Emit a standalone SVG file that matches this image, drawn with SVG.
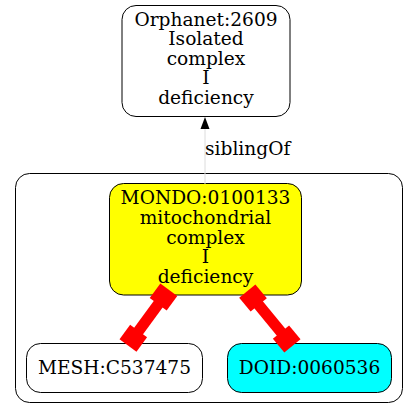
<svg xmlns="http://www.w3.org/2000/svg" width="419" height="419" viewBox="0 0 419 419">
<style>
.n{stroke:#000;stroke-width:1}
text{font-family:"DejaVu Serif","Liberation Serif",serif;font-size:18.6px;text-anchor:middle;fill:#000}
.red{fill:#ff0000;stroke:none}
</style>
<rect width="419" height="419" fill="#fff"/>
<g id="cluster">
<rect x="15.5" y="173.5" width="387" height="229" rx="14" fill="none" stroke="#000" stroke-width="1"/>
</g>
<g id="orphanet">
<rect class="n" x="122" y="5.5" width="168" height="111" rx="14" fill="#fff"/>
<text x="206" y="25.5">Orphanet:2609</text>
<text x="206" y="45">Isolated</text>
<text x="206" y="64.5">complex</text>
<text x="206" y="84">I</text>
<text x="206" y="103.5">deficiency</text>
</g>
<g id="mondo">
<rect class="n" x="109.5" y="183.5" width="192" height="111.5" rx="14" fill="#ffff00"/>
<text x="205.5" y="204">MONDO:0100133</text>
<text x="205.5" y="223.7">mitochondrial</text>
<text x="205.5" y="243.5">complex</text>
<text x="205.5" y="263.2">I</text>
<text x="205.5" y="283">deficiency</text>
</g>
<g id="mesh">
<rect class="n" x="26.5" y="343.5" width="176" height="49" rx="14" fill="#fff"/>
<text x="114.5" y="374">MESH:C537475</text>
</g>
<g id="doid">
<rect class="n" x="227.5" y="343.5" width="164" height="49" rx="14" fill="#00ffff"/>
<text x="309.5" y="374">DOID:0060536</text>
</g>
<g id="connectors">
<line x1="205" y1="129" x2="205" y2="184" stroke="#dcdcdc" stroke-width="1"/>
<polygon points="205,117 200.5,129 209.5,129" fill="#000"/>
<text x="205" y="155" style="text-anchor:start">siblingOf</text>
<line x1="163.5" y1="297" x2="133.3" y2="338.3" stroke="#ff0000" stroke-width="11"/>
<polygon class="red" points="160.34,283.54 177.28,295.94 166.66,310.46 149.72,298.06"/>
<polygon class="red" points="130.14,324.84 147.08,337.24 136.46,351.76 119.52,339.36"/>
<line x1="253" y1="298" x2="286.7" y2="339" stroke="#ff0000" stroke-width="11"/>
<polygon class="red" points="239.17,297.72 255.39,284.38 266.83,298.28 250.61,311.62"/>
<polygon class="red" points="272.87,338.72 289.09,325.38 300.53,339.28 284.31,352.62"/>
</g>
</svg>
